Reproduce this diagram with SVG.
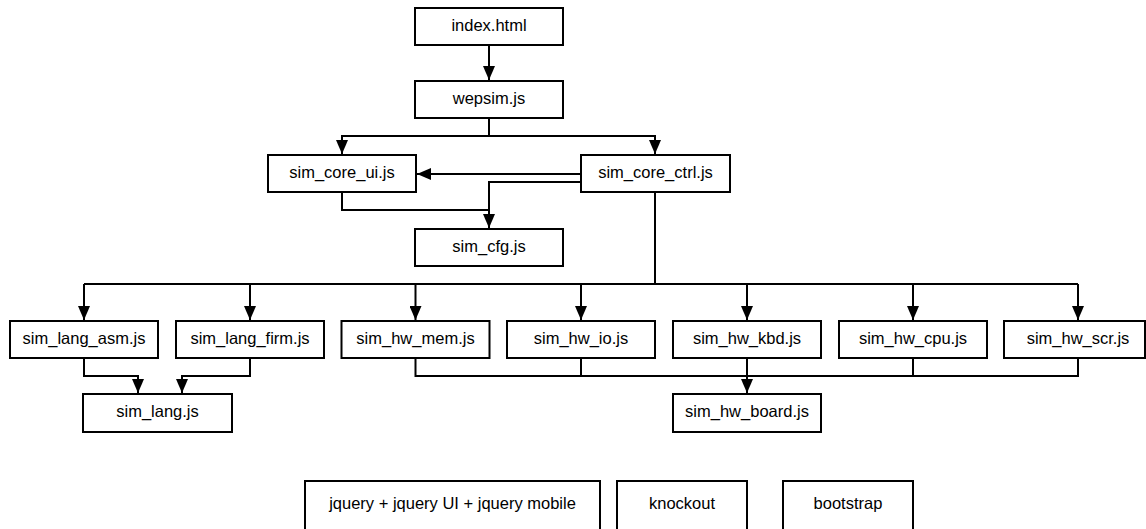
<svg xmlns="http://www.w3.org/2000/svg" width="1146" height="529" viewBox="0 0 1146 529">
<style>
.box{fill:#fff;stroke:#000;stroke-width:2}
.lbl{font-family:"Liberation Sans",Arial,sans-serif;font-size:16.5px;fill:#000;text-anchor:middle}
.ln{fill:none;stroke:#000;stroke-width:2}
</style>
<defs>
<marker id="ah" viewBox="0 0 14 12" refX="14" refY="6" markerWidth="14" markerHeight="12" markerUnits="userSpaceOnUse" orient="auto">
<path d="M0,0 L14,6 L0,12 z" fill="#000"/>
</marker>
</defs>
<rect width="1146" height="529" fill="#fff"/>
<g id="connectors">
<path class="ln" d="M489,45 V80" marker-end="url(#ah)"/>
<path class="ln" d="M489,118 V136 H342 V154" marker-end="url(#ah)"/>
<path class="ln" d="M489,136 H655 V154" marker-end="url(#ah)"/>
<path class="ln" d="M581,174 H417" marker-end="url(#ah)"/>
<path class="ln" d="M581,182 H489 V228" marker-end="url(#ah)"/>
<path class="ln" d="M342,192 V210 H489"/>
<path class="ln" d="M655,192 V284"/>
<path class="ln" d="M84,284 H1078"/>
<path class="ln" d="M84,284 V320" marker-end="url(#ah)"/>
<path class="ln" d="M250,284 V320" marker-end="url(#ah)"/>
<path class="ln" d="M415.5,284 V320" marker-end="url(#ah)"/>
<path class="ln" d="M581,284 V320" marker-end="url(#ah)"/>
<path class="ln" d="M747,284 V320" marker-end="url(#ah)"/>
<path class="ln" d="M913,284 V320" marker-end="url(#ah)"/>
<path class="ln" d="M1078,284 V320" marker-end="url(#ah)"/>
<path class="ln" d="M84,358 V376 H138 V393" marker-end="url(#ah)"/>
<path class="ln" d="M250,358 V376 H182 V393" marker-end="url(#ah)"/>
<path class="ln" d="M415.5,358 V376 H1078 V358"/>
<path class="ln" d="M581,358 V376"/>
<path class="ln" d="M913,358 V376"/>
<path class="ln" d="M747,358 V393" marker-end="url(#ah)"/>
</g>
<g id="index"><rect class="box" x="415" y="8" width="148" height="37"/><text class="lbl" x="489" y="30.5">index.html</text></g>
<g id="wepsim"><rect class="box" x="415" y="81" width="148" height="37"/><text class="lbl" x="489" y="103.5">wepsim.js</text></g>
<g id="sim_core_ui"><rect class="box" x="268" y="155" width="148" height="37"/><text class="lbl" x="342" y="177.5">sim_core_ui.js</text></g>
<g id="sim_core_ctrl"><rect class="box" x="581" y="155" width="149" height="37"/><text class="lbl" x="655.5" y="177.5">sim_core_ctrl.js</text></g>
<g id="sim_cfg"><rect class="box" x="415" y="229" width="148" height="37"/><text class="lbl" x="489" y="251.5">sim_cfg.js</text></g>
<g id="sim_lang_asm"><rect class="box" x="10" y="321" width="148" height="37"/><text class="lbl" x="84" y="343.5">sim_lang_asm.js</text></g>
<g id="sim_lang_firm"><rect class="box" x="176" y="321" width="148" height="37"/><text class="lbl" x="250" y="343.5">sim_lang_firm.js</text></g>
<g id="sim_hw_mem"><rect class="box" x="341.5" y="321" width="148" height="37"/><text class="lbl" x="415.5" y="343.5">sim_hw_mem.js</text></g>
<g id="sim_hw_io"><rect class="box" x="507" y="321" width="148" height="37"/><text class="lbl" x="581" y="343.5">sim_hw_io.js</text></g>
<g id="sim_hw_kbd"><rect class="box" x="673" y="321" width="148" height="37"/><text class="lbl" x="747" y="343.5">sim_hw_kbd.js</text></g>
<g id="sim_hw_cpu"><rect class="box" x="839" y="321" width="148" height="37"/><text class="lbl" x="913" y="343.5">sim_hw_cpu.js</text></g>
<g id="sim_hw_scr"><rect class="box" x="1004" y="321" width="141" height="37"/><text class="lbl" x="1078" y="343.5">sim_hw_scr.js</text></g>
<g id="sim_lang"><rect class="box" x="83" y="394" width="149" height="38"/><text class="lbl" x="157.5" y="416.5">sim_lang.js</text></g>
<g id="sim_hw_board"><rect class="box" x="673" y="394" width="148" height="38"/><text class="lbl" x="747" y="416.5">sim_hw_board.js</text></g>
<g id="jquery"><rect class="box" x="305" y="481" width="295" height="60"/><text class="lbl" x="452.5" y="508.5">jquery + jquery UI + jquery mobile</text></g>
<g id="knockout"><rect class="box" x="617" y="481" width="130" height="60"/><text class="lbl" x="682" y="508.5">knockout</text></g>
<g id="bootstrap"><rect class="box" x="783" y="481" width="130" height="60"/><text class="lbl" x="848" y="508.5">bootstrap</text></g>
</svg>
